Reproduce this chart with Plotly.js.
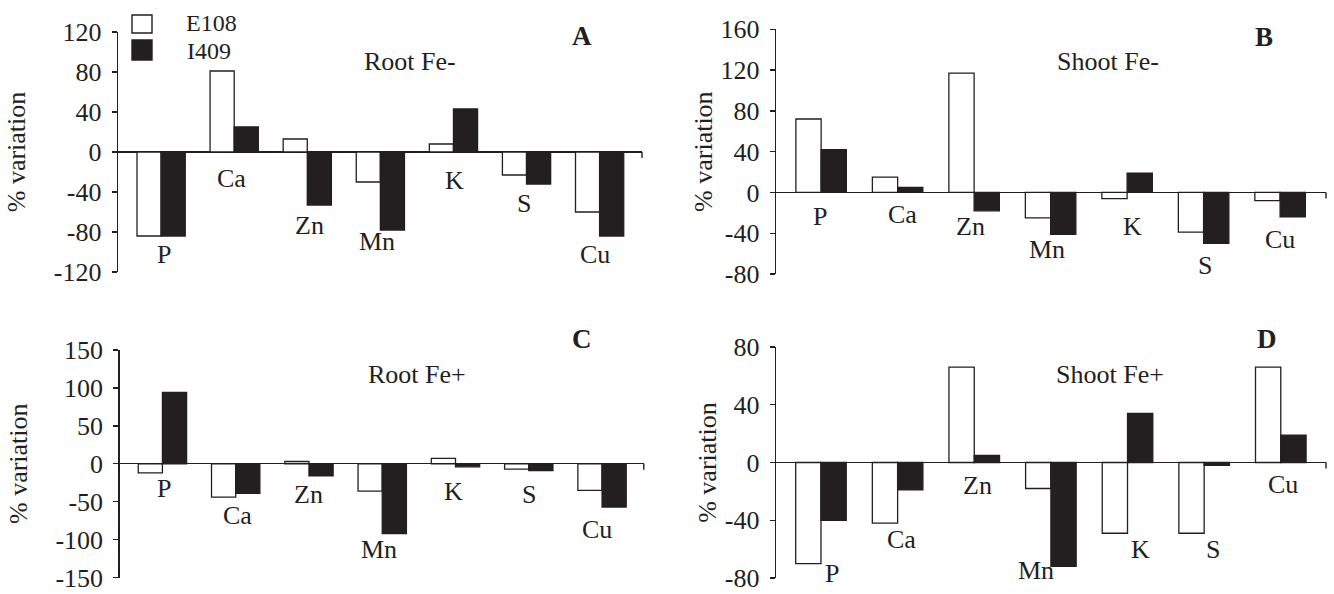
<!DOCTYPE html>
<html>
<head>
<meta charset="utf-8">
<script src="https://cdn.plot.ly/plotly-3.0.1.min.js"></script>
<style>html,body{margin:0;padding:0;background:#fff}#chart{width:1334px;height:594px}</style>
</head>
<body>
<div id="chart"></div>
<script>
// ---- data ----
const categories = ['P', 'Ca', 'Zn', 'Mn', 'K', 'S', 'Cu'];
const seriesNames = ['E108', 'I409'];
const panelTitles = ['Root Fe-', 'Shoot Fe-', 'Root Fe+', 'Shoot Fe+'];
const panelLetters = ['A', 'B', 'C', 'D'];

const rootFeMinusE108 = [-84, 81, 13, -30, 8, -23, -60];
const rootFeMinusI409 = [-84, 25, -53, -78, 43, -32, -84];
const shootFeMinusE108 = [72, 15, 117, -25, -6, -39, -8];
const shootFeMinusI409 = [42, 5, -18, -41, 19, -50, -24];
const rootFePlusE108 = [-12, -44, 3, -36, 7, -7, -35];
const rootFePlusI409 = [94, -39, -16, -92, -4, -9, -57];
const shootFePlusE108 = [-70, -42, 66, -18, -49, -49, 66];
const shootFePlusI409 = [-40, -19, 5, -72, 34, -2, 19];

const ticksA = [-120, -80, -40, 0, 40, 80, 120];
const ticksB = [-80, -40, 0, 40, 80, 120, 160];
const ticksC = [-150, -100, -50, 0, 50, 100, 150];
const ticksD = [-80, -40, 0, 40, 80];

// ---- layout / positions (px, in the 1334x594 canvas) ----
const W = 1334, H = 594;
const ink = '#231f20';
const serif = 'Liberation Serif, Times New Roman, serif';
const FS = 26;

const panels = [
  {e: rootFeMinusE108, i: rootFeMinusI409, ticks: ticksA, x0: 118, x1: 642, y0: 32, y1: 272, xr: [-0.59, 6.58], standoff: 20,
   labY: [-102, -26, -73, -89, -28, -51, -102], labDx: [3, -3, 2, -3, 1, -3, -5],
   letterPos: [582, 36], titlePos: [410, 62]},
  {e: shootFeMinusE108, i: shootFeMinusI409, ticks: ticksB, x0: 776, x1: 1326, y0: 29.3, y1: 274, xr: [-0.59, 6.6], standoff: 0,
   labY: [-24, -22, -33, -56, -33, -72, -46], labDx: [-1, 5, -4, -4, 5, 1, 0],
   letterPos: [1264, 37], titlePos: [1108, 61]},
  {e: rootFePlusE108, i: rootFePlusI409, ticks: ticksC, x0: 119.7, x1: 643.8, y0: 350, y1: 577.5, xr: [-0.583, 6.57], standoff: 20,
   labY: [-32, -68, -41, -113, -36, -41, -87], labDx: [2, 2, 0, -3, -2, 0, -5],
   letterPos: [582, 339], titlePos: [417, 374]},
  {e: shootFePlusE108, i: shootFePlusI409, ticks: ticksD, x0: 776, x1: 1326, y0: 347, y1: 578, xr: [-0.587, 6.59], standoff: 0,
   labY: [-77, -53, -16, -75, -60, -60, -15], labDx: [11, 4, 3, -15, 13, 9, 2],
   letterPos: [1267, 339], titlePos: [1110, 374]}
];

// legend box positions (px): [left, top, right, bottom], text left / centre y
const legendBoxes = [[132, 15, 152, 33], [132, 40, 152, 60]];
const legendText = [[184, 23], [185, 51]];
const legendFill = ['#ffffff', ink];

const data = [];
const annotations = [];
const shapes = [];
const layout = {
  width: W, height: H,
  margin: {l: 0, r: 0, t: 0, b: 0},
  paper_bgcolor: '#fff', plot_bgcolor: 'rgba(0,0,0,0)',
  font: {family: serif, color: ink, size: FS},
  barmode: 'group', bargap: 0.34, bargroupgap: 0,
  showlegend: false,
  annotations: annotations, shapes: shapes
};

panels.forEach((p, k) => {
  const n = k + 1;
  const xa = n === 1 ? 'x' : 'x' + n;
  const ya = n === 1 ? 'y' : 'y' + n;
  const xKey = n === 1 ? 'xaxis' : 'xaxis' + n;
  const yKey = n === 1 ? 'yaxis' : 'yaxis' + n;
  const lo = p.ticks[0], hi = p.ticks[p.ticks.length - 1];

  data.push({type: 'bar', name: seriesNames[0], x: categories, y: p.e, xaxis: xa, yaxis: ya,
    marker: {color: legendFill[0], line: {color: ink, width: 1.3}}, legendgroup: 'e',
    hoverinfo: 'x+y+name'});
  data.push({type: 'bar', name: seriesNames[1], x: categories, y: p.i, xaxis: xa, yaxis: ya,
    marker: {color: legendFill[1], line: {color: ink, width: 1.3}}, legendgroup: 'i',
    hoverinfo: 'x+y+name'});

  layout[xKey] = {domain: [p.x0 / W, p.x1 / W], anchor: ya, type: 'category', range: p.xr,
    showline: false, showticklabels: false, ticks: '', showgrid: false, zeroline: false, fixedrange: true};
  layout[yKey] = {domain: [1 - p.y1 / H, 1 - p.y0 / H], anchor: xa, range: [lo, hi],
    tickvals: p.ticks, ticktext: p.ticks.map(String),
    showline: true, linecolor: ink, linewidth: 1.4, ticks: 'outside', ticklen: 5, tickwidth: 1.4, tickcolor: ink,
    ticklabelstandoff: 5, ticklabeloverflow: 'allow',
    showgrid: false, zeroline: true, zerolinecolor: ink, zerolinewidth: 1.4,
    tickfont: {family: serif, size: FS, color: ink},
    title: {text: '% variation', font: {family: serif, size: FS, color: ink}, standoff: p.standoff},
    fixedrange: true};

  // small end tick on the x axis
  shapes.push({type: 'line', xref: xa + ' domain', yref: ya, x0: 1, x1: 1, ysizemode: 'pixel', yanchor: 0,
    y0: 0, y1: -6, line: {color: ink, width: 1.4}});

  // element labels
  categories.forEach((c, j) => {
    annotations.push({xref: xa, yref: ya, x: c, y: p.labY[j], text: c, showarrow: false, xshift: p.labDx[j],
      xanchor: 'center', yanchor: 'middle', font: {family: serif, size: FS, color: ink}});
  });
  // panel title and letter
  annotations.push({xref: 'paper', yref: 'paper', x: p.titlePos[0] / W, y: 1 - p.titlePos[1] / H,
    xanchor: 'center', yanchor: 'middle',
    text: panelTitles[k], showarrow: false, font: {family: serif, size: FS, color: ink}});
  annotations.push({xref: 'paper', yref: 'paper', x: p.letterPos[0] / W, y: 1 - p.letterPos[1] / H,
    xanchor: 'center', yanchor: 'middle',
    text: '<b>' + panelLetters[k] + '</b>', showarrow: false, font: {family: serif, size: FS + 1, color: ink}});
});

// legend (drawn as boxes + text)
seriesNames.forEach((s, j) => {
  const b = legendBoxes[j];
  shapes.push({type: 'rect', xref: 'paper', yref: 'paper', x0: b[0] / W, x1: b[2] / W, y0: 1 - b[3] / H, y1: 1 - b[1] / H,
    fillcolor: legendFill[j], line: {color: ink, width: 1.4}});
  annotations.push({xref: 'paper', yref: 'paper', x: legendText[j][0] / W, y: 1 - legendText[j][1] / H,
    xanchor: 'left', yanchor: 'middle', text: s, showarrow: false, font: {family: serif, size: 24, color: ink}});
});

Plotly.newPlot('chart', data, layout, {staticPlot: true, displayModeBar: false});
</script>
</body>
</html>
